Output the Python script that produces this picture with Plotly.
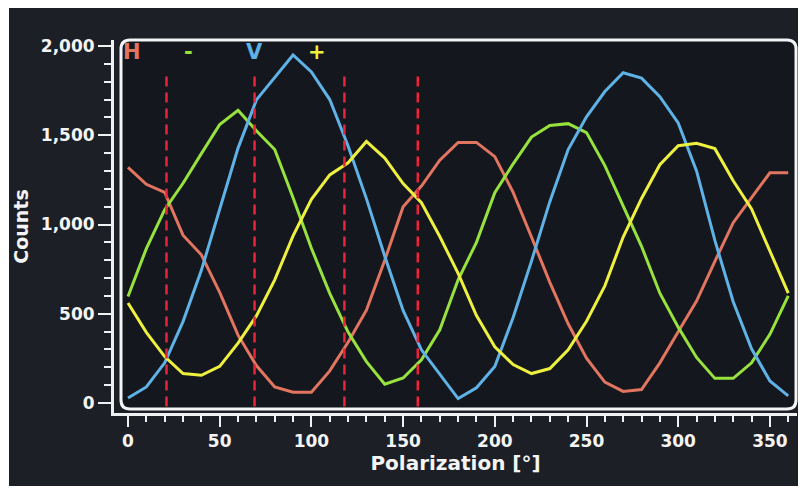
import plotly.graph_objects as go

# ---------------- data ----------------
angles = list(range(0, 361, 10))
h_counts = [1320, 1225, 1180, 940, 830, 620, 380, 210, 90, 60, 60, 180, 340, 520, 800,
            1100, 1215, 1360, 1460, 1460, 1380, 1180, 930, 676, 444, 251, 117, 65, 75,
            225, 399, 571, 794, 1010, 1150, 1290, 1290]
minus_counts = [597, 865, 1083, 1231, 1397, 1560, 1640, 1525, 1420, 1150, 867, 614, 397,
                232, 105, 140, 242, 410, 690, 900, 1178, 1340, 1490, 1555, 1565, 1515,
                1330, 1105, 878, 615, 425, 255, 138, 138, 225, 385, 600]
v_counts = [28, 90, 225, 456, 743, 1090, 1428, 1698, 1823, 1950, 1855, 1700, 1440, 1145,
            822, 519, 298, 160, 25, 85, 204, 479, 795, 1128, 1420, 1603, 1745, 1850, 1820,
            1716, 1569, 1300, 911, 567, 304, 123, 40]
plus_counts = [560, 396, 260, 165, 155, 205, 335, 488, 690, 936, 1141, 1278, 1346, 1465,
               1372, 1229, 1122, 933, 726, 490, 315, 215, 165, 193, 298, 458, 656, 930,
               1146, 1335, 1441, 1455, 1425, 1245, 1087, 852, 616]
series_labels = ["H", "-", "V", "+"]
marker_angles = [21, 69, 118, 158]
marker_top = 1830
x_tick_vals = [0, 50, 100, 150, 200, 250, 300, 350]
y_tick_vals = [0, 500, 1000, 1500, 2000]

# ---------------- style ----------------
colors = ["#e27560", "#97e23e", "#5fb2e6", "#eef040"]
FONT = "DejaVu Sans"
OFF = 8                      # page body margin
W, H = 806 - OFF, 497 - OFF  # figure size so it ends at the window edge
# plot area in window pixels
PL, PR, PT, PB = 114, 797, 40, 413
L, R, T, B = PL - OFF, W - (PR - OFF), PT - OFF, H - (PB - OFF)
pw, ph = W - L - R, H - T - B


def fx(px):
    return (px - PL) / pw


def fy(py):
    return (PB - py) / ph


fig = go.Figure()
for lab, ys, col in zip(series_labels, [h_counts, minus_counts, v_counts, plus_counts], colors):
    fig.add_trace(go.Scatter(x=angles, y=ys, mode="lines", name=lab,
                             line=dict(color=col, width=3), hoverinfo="skip"))

shapes = []
# dark screen background
shapes.append(dict(type="rect", xref="paper", yref="paper", layer="below",
                   x0=fx(9), x1=fx(799), y0=fy(486), y1=fy(0),
                   fillcolor="#1c1f26", line=dict(width=0)))
# rounded frame
x0, x1, y0, y1 = fx(121), fx(796), fy(409), fy(40)
rx, ry = 9 / pw, 9 / ph
path = (f"M {x0+rx},{y1} L {x1-rx},{y1} Q {x1},{y1} {x1},{y1-ry} "
        f"L {x1},{y0+ry} Q {x1},{y0} {x1-rx},{y0} L {x0+rx},{y0} "
        f"Q {x0},{y0} {x0},{y0+ry} L {x0},{y1-ry} Q {x0},{y1} {x0+rx},{y1} Z")
shapes.append(dict(type="path", xref="paper", yref="paper", path=path, layer="below",
                   fillcolor="#14171d", line=dict(color="#f2f4f6", width=3)))
fig.update_layout(shapes=shapes)

for a in marker_angles:
    fig.add_shape(type="line", xref="x", yref="y", x0=a, x1=a, y0=-20, y1=marker_top,
                  line=dict(color="#e8233a", width=2.5, dash="10px,6px"), layer="above")

label_px = [132, 188, 254, 317]
for lab, col, px in zip(series_labels, colors, label_px):
    fig.add_annotation(xref="paper", yref="paper", x=fx(px), y=fy(52), text=lab,
                       showarrow=False, xanchor="center", yanchor="middle",
                       font=dict(family=FONT, size=21, color=col, weight="bold"))

x_per_px = 1 / 1.834
y_per_px = 1 / 0.1785
xmin = 0 - (128 - PL) * x_per_px
xmax = xmin + pw * x_per_px
ymin = 0 - (PB - 403) * y_per_px
ymax = ymin + ph * y_per_px

fig.update_layout(
    width=W, height=H,
    margin=dict(l=L, r=R, t=T, b=B),
    paper_bgcolor="#ffffff",
    plot_bgcolor="rgba(0,0,0,0)",
    showlegend=False,
    font=dict(family=FONT, color="#f4f4f4"),
    xaxis=dict(range=[xmin, xmax], tickvals=x_tick_vals, showgrid=False, zeroline=False,
               showline=True, linecolor="#eef0f2", linewidth=3,
               ticks="outside", ticklen=11, tickwidth=2, tickcolor="#eef0f2",
               minor=dict(dtick=10, ticks="outside", ticklen=6, tickwidth=2, tickcolor="#eef0f2"),
               tickfont=dict(family=FONT, size=17, color="#f4f4f4", weight="bold"),
               title=dict(text="Polarization [°]", standoff=6,
                          font=dict(family=FONT, size=20, color="#f4f4f4", weight="bold"))),
    yaxis=dict(range=[ymin, ymax], tickvals=y_tick_vals, tickformat=",", showgrid=False,
               zeroline=False, showline=True, linecolor="#eef0f2", linewidth=3,
               ticks="outside", ticklen=13, tickwidth=2, tickcolor="#eef0f2",
               minor=dict(dtick=100, ticks="outside", ticklen=7, tickwidth=2, tickcolor="#eef0f2"),
               tickfont=dict(family=FONT, size=17, color="#f4f4f4", weight="bold"),
               title=dict(text="Counts", standoff=8,
                          font=dict(family=FONT, size=19, color="#f4f4f4", weight="bold"))),
)

fig.write_html("out.html")
